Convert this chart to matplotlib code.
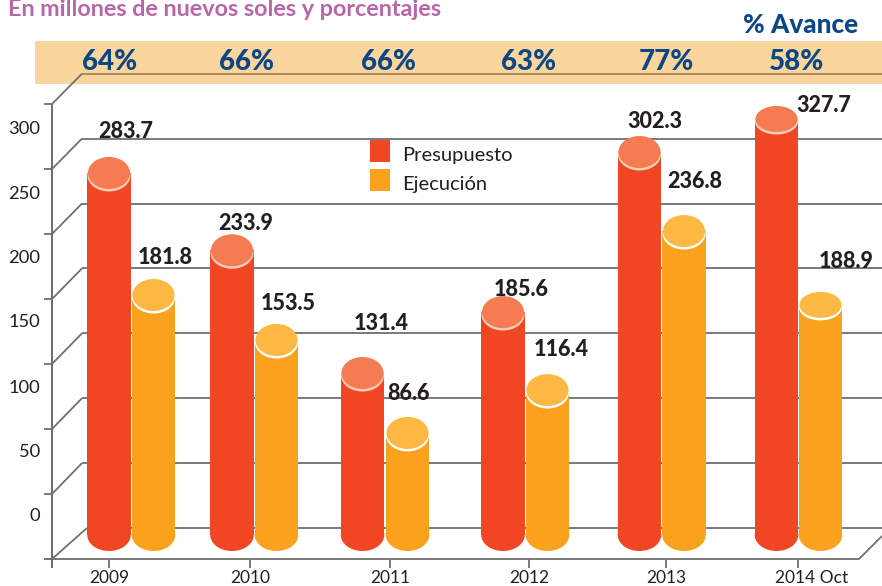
"""Presupuesto vs ejecucion, 2009-2014, drawn as pseudo 3-D cylinders."""
import matplotlib
matplotlib.use("Agg")
import matplotlib.pyplot as plt
from matplotlib.patches import Ellipse, Rectangle
from matplotlib.transforms import Affine2D

plt.rcParams["font.family"] = ["Lato", "DejaVu Sans"]

years = ["2009", "2010", "2011", "2012", "2013", "2014 Oct"]
avance = ["64%", "66%", "66%", "63%", "77%", "58%"]
presupuesto_label = ["283.7", "233.9", "131.4", "185.6", "302.3", "327.7"]
ejecucion_label = ["181.8", "153.5", "86.6", "116.4", "236.8", "188.9"]
# drawn heights, read off the cylinders (the original is not quite to scale)
presupuesto = [278.5, 219.0, 124.6, 171.5, 294.6, 320.0]
ejecucion = [184.6, 150.0, 78.5, 111.5, 233.8, 177.0]
y_ticks = [0, 50, 100, 150, 200, 250, 300]

W, H = 882, 586
BASE = 535.0     # pixel row of the cylinder base centre
SCALE = 1.3      # pixels per unit
BAR_W = 43.5
RED, RED_TOP = "#F04623", "#F47B52"
ORANGE, ORANGE_TOP = "#FAA21E", "#FDB843"
GREY = "#6F7072"
BLUE = "#0B4785"
DARK = "#231F20"

fig = plt.figure(figsize=(W / 100, H / 100), dpi=100)
ax = fig.add_axes([0, 0, 1, 1])
ax.set_xlim(0, W)
ax.set_ylim((BASE - H) / SCALE, BASE / SCALE)
ax.axis("off")

# pixel coordinates (y down) for the frame and annotations
PX = Affine2D().scale(1, -1).translate(0, H)


def line(xs, ys, color=GREY, lw=1.3, z=2):
    ax.plot(xs, ys, color=color, lw=lw, transform=PX, clip_on=False,
            solid_capstyle="butt", zorder=z)


def text(x, y, s, **kw):
    kw.setdefault("ha", "center")
    kw.setdefault("va", "center")
    ax.text(x, y, s, transform=PX, **kw)


# title, band
text(8, 9, "En millones de nuevos soles y porcentajes", ha="left",
     color="#B866A8", fontsize=16.8, fontweight="bold")
text(801, 25, "% Avance", color=BLUE, fontsize=18.8, fontweight="black")
ax.add_patch(Rectangle((35, 41), W - 35, 43, transform=PX, color="#FBD59E", lw=0, zorder=1))
for x, s in zip([110, 247, 389, 529, 666, 797], avance):
    text(x, 62, s, color=BLUE, fontsize=20, fontweight="black", zorder=3)

# back wall, side wall
for i in range(8):
    front = 559 - 65 * i
    back = 528 - 64.9 * i
    color = "#A6834F" if i == 7 else GREY
    line([52, 87 if i == 0 else 82], [front, back])
    line([87 if i == 0 else 82, W], [back, back], color=color)
    line([44, 52], [front, front])
line([52, 52], [104, 568], lw=1.5)
line([44, 859, 882], [559, 559, 536])

for v, py in zip(y_ticks, [516, 452, 388, 322, 258, 194, 129]):
    text(40, py, str(v), color=DARK, fontsize=13.2, ha="right")

# cylinders
red_x = [109, 232, 362.5, 503, 639.5, 776.5]
orange_x = [153.5, 276.5, 407.5, 547.5, 684, 820.5]
cap_px = [32, 32, 32, 32, 32, 26]   # last pair is drawn flatter
for xs, heights, body, top, rim in [(red_x, presupuesto, RED, RED_TOP, "#FBCDB6"),
                                    (orange_x, ejecucion, ORANGE, ORANGE_TOP, "#FFFFFF")]:
    ax.bar(xs, heights, width=BAR_W, color=body, lw=0, zorder=4)
    for x, h, c in zip(xs, heights, cap_px):
        cap_h = c / SCALE
        ax.add_patch(Ellipse((x, 0), BAR_W, 32 / SCALE, color=body, lw=0, zorder=4))
        # pale rim shows along the lower edge of the lid only
        ax.add_patch(Ellipse((x, h - 2.5 / SCALE), BAR_W - 0.5, cap_h, color=rim, lw=0, zorder=5))
        ax.add_patch(Ellipse((x, h), BAR_W - 1.5, cap_h, color=top, lw=0, zorder=6))

# value labels
red_lab = [(126, 132), (246, 224), (381, 324), (521, 289), (655, 122), (824, 106)]
ora_lab = [(165, 257), (288, 303), (409, 394), (561, 349), (695, 182), (846, 261)]
for (x, y), s in zip(red_lab + ora_lab, presupuesto_label + ejecucion_label):
    text(x, y, s, color=DARK, fontsize=15.5, fontweight="black", zorder=7)

# x ticks
for x, s in zip([109, 250, 390, 529, 666, 798], years):
    line([x, x], [559, 568])
    text(x + (14 if s.endswith("Oct") else 0), 578, s, color=DARK, fontsize=12.5)

# legend
for py, c, s in [(140, RED, "Presupuesto"), (169, ORANGE, "Ejecución")]:
    ax.add_patch(Rectangle((370, py), 20, 22, transform=PX, color=c, lw=0, zorder=7))
    text(402, py + 15.5, s, ha="left", color=DARK, fontsize=14.5, zorder=7)

fig.savefig("out.png", dpi=100)
